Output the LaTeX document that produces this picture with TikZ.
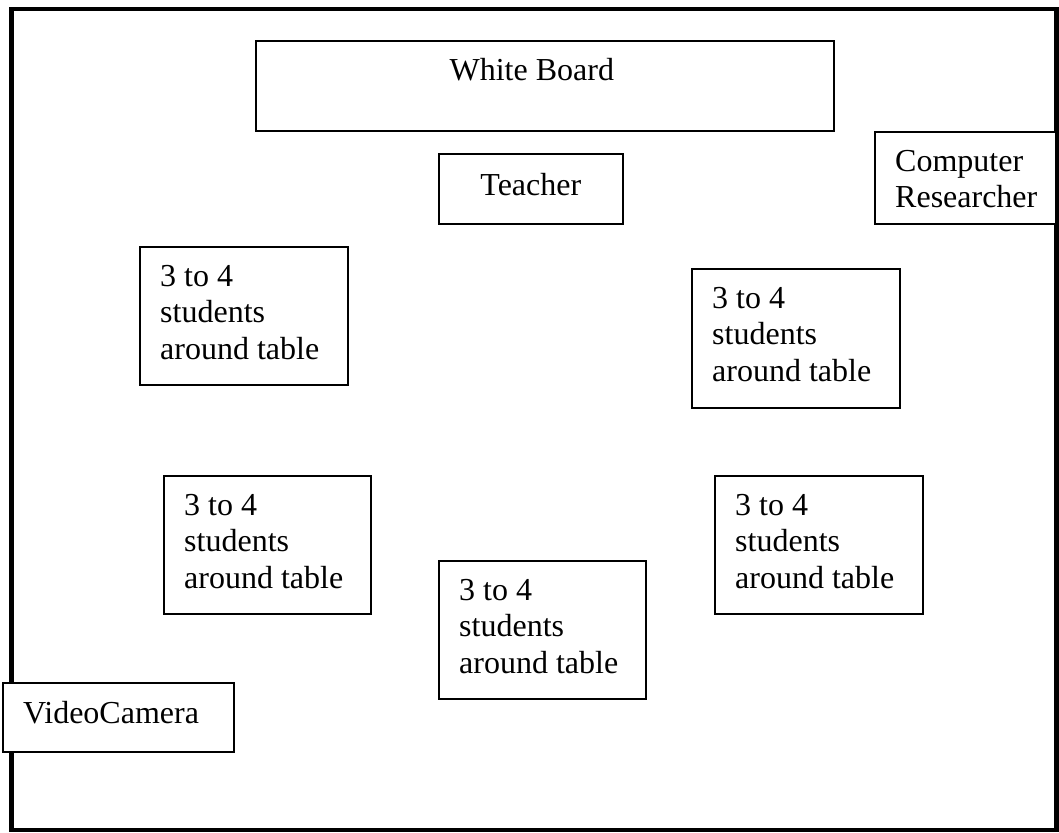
\documentclass[tikz,border=0pt]{standalone}
\usepackage{fontspec}
\setmainfont{Liberation Serif}
\usetikzlibrary{calc}
\begin{document}
\begin{tikzpicture}[x=1pt,y=-1pt,
  frame/.style={draw=black, line width=4.5pt},
  box/.style={draw=black, line width=1.6pt, fill=white, rectangle,
    anchor=north west, inner sep=0pt},
  lbl/.style={font=\fontsize{32}{36.5}\selectfont, inner sep=0pt,
    align=left, anchor=base west},
  clbl/.style={font=\fontsize{32}{36.5}\selectfont, inner sep=0pt,
    anchor=base}
]
\useasboundingbox (0,0) rectangle (1059,832);
% room walls
\draw[frame] (11.5,9) rectangle (1056.5,830);

% furniture and people
\node[box, minimum width=578pt, minimum height=90pt] (board) at (255,40) {};
\node[box, minimum width=184pt, minimum height=70pt] (teacher) at (438,153) {};
\node[box, minimum width=181pt, minimum height=92pt] (computer) at (874,131) {};
\node[box, minimum width=208pt, minimum height=138pt] (tabA) at (139,246) {};
\node[box, minimum width=208pt, minimum height=139pt] (tabB) at (691,268) {};
\node[box, minimum width=207pt, minimum height=138pt] (tabC) at (163,475) {};
\node[box, minimum width=208pt, minimum height=138pt] (tabD) at (714,475) {};
\node[box, minimum width=207pt, minimum height=138pt] (tabE) at (438,560) {};
\node[box, minimum width=231pt, minimum height=69pt] (camera) at (2,682) {};

% labels (base anchor sits on the last line's baseline)
\node[clbl] (boardT) at ($(board.north)+(-13,41)$) {White Board};
\node[clbl] (teacherT) at ($(teacher.north)+(0,42)$) {Teacher};
\node[lbl] (computerT) at ($(computer.north west)+(21,76.5)$) {Computer\\Researcher};
\foreach \t in {tabA,tabB,tabC,tabD,tabE}
  \node[lbl] (\t T) at ($(\t.north west)+(21,113)$) {3 to 4\\students\\around table};
\node[lbl] (cameraT) at ($(camera.north west)+(21,41)$) {VideoCamera};
\end{tikzpicture}
\end{document}
